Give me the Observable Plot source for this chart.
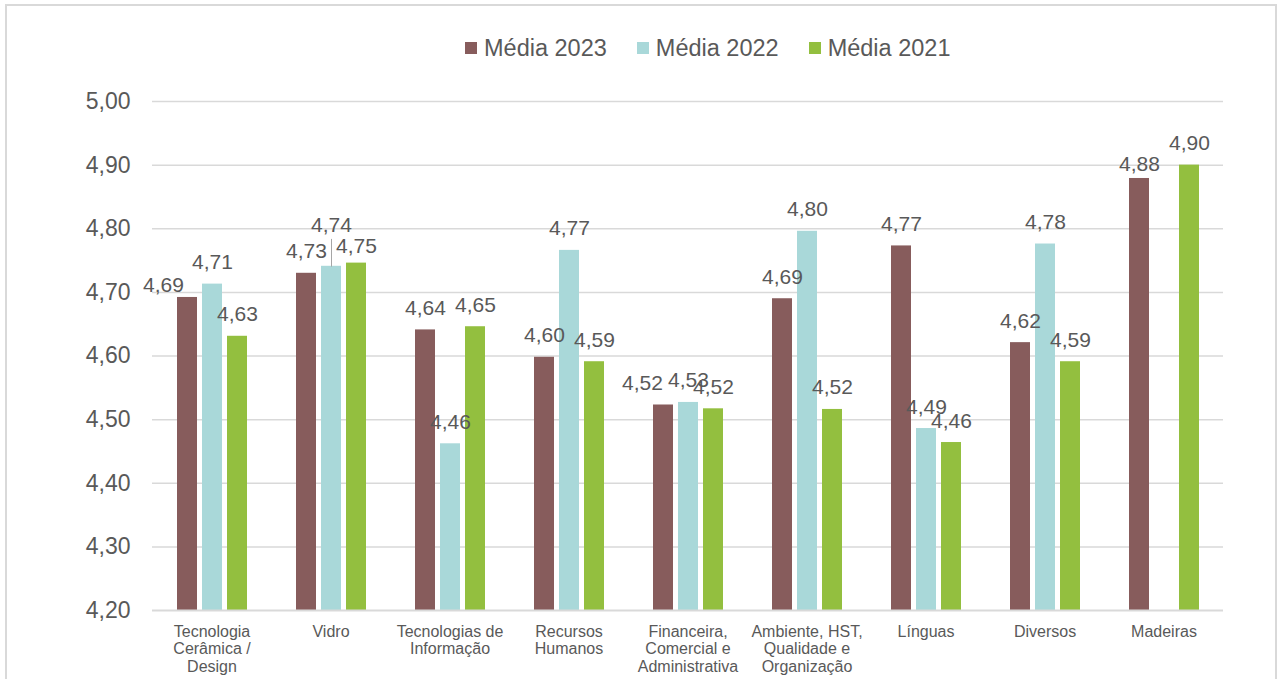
<!DOCTYPE html>
<html>
<head>
<meta charset="utf-8">
<script src="https://cdn.jsdelivr.net/npm/d3@7"></script>
<script src="https://cdn.jsdelivr.net/npm/@observablehq/plot@0.6"></script>
<style>
  body { margin: 0; background: #fff; font-family: "Liberation Sans", Arial, sans-serif; overflow: hidden; }
  #frame { position: absolute; left: 5px; top: 4px; width: 1272px; height: 740px; border: 2px solid #d9d9d9; box-sizing: border-box; }
  #legend { position: relative; height: 80px; }
  #legend .row { position: absolute; left: 465px; top: 35px; display: flex; align-items: center; font-size: 23.5px; line-height: 26px; color: #595959; white-space: nowrap; }
  #legend .item { display: flex; align-items: center; margin-right: 30px; }
  #legend .sw { width: 12px; height: 12px; margin-right: 7px; }
  #chart { position: relative; }
</style>
</head>
<body>
<div id="frame"></div>
<div id="legend"><div class="row"></div></div>
<div id="chart"></div>
<script>
const categories = [
  "Tecnologia Cerâmica / Design",
  "Vidro",
  "Tecnologias de Informação",
  "Recursos Humanos",
  "Financeira, Comercial e Administrativa",
  "Ambiente, HST, Qualidade e Organização",
  "Línguas",
  "Diversos",
  "Madeiras"
];
const categoryLabels = [
  "Tecnologia\nCerâmica /\nDesign",
  "Vidro",
  "Tecnologias de\nInformação",
  "Recursos\nHumanos",
  "Financeira,\nComercial e\nAdministrativa",
  "Ambiente, HST,\nQualidade e\nOrganização",
  "Línguas",
  "Diversos",
  "Madeiras"
];
const series = ["Média 2023", "Média 2022", "Média 2021"];
const media2023 = [4.692, 4.730, 4.641, 4.598, 4.523, 4.690, 4.773, 4.621, 4.879];
const media2022 = [4.713, 4.741, 4.462, 4.766, 4.527, 4.796, 4.486, 4.776, null];
const media2021 = [4.631, 4.746, 4.646, 4.591, 4.517, 4.516, 4.464, 4.591, 4.900];
const yTicks = [4.2, 4.3, 4.4, 4.5, 4.6, 4.7, 4.8, 4.9, 5.0];
const colors = ["#875c5c", "#a9d8d9", "#93bf3f"];

// label nudges (manually moved data labels in the original), in pixels
const labelNudges = {
  "Tecnologia Cerâmica / Design|Média 2023": [-24, 10],
  "Vidro|Média 2022": [0, -19],
  "Vidro|Média 2021": [0, 5],
  "Financeira, Comercial e Administrativa|Média 2023": [-21, 0],
  "Madeiras|Média 2023": [0, 8]
};

const seriesValues = [media2023, media2022, media2021];
const data = [];
categories.forEach((c, i) => {
  seriesValues.forEach((arr, j) => {
    if (arr[i] != null) data.push({category: c, series: series[j], value: arr[i]});
  });
});
const labelOf = new Map(categories.map((c, i) => [c, categoryLabels[i]]));
const fmt = v => d3.format(".2f")(v).replace(".", ",");
const key = d => d.category + "|" + d.series;

// legend
const row = document.querySelector("#legend .row");
series.forEach((s, i) => {
  const it = document.createElement("div");
  it.className = "item";
  const sw = document.createElement("div");
  sw.className = "sw";
  sw.style.background = colors[i];
  const tx = document.createElement("span");
  tx.textContent = s;
  it.appendChild(sw); it.appendChild(tx);
  row.appendChild(it);
});

const textColor = "#595959";
const labelMarks = [];
labelMarks.push(Plot.text(data.filter(d => !labelNudges[key(d)]), {
  fx: "category", x: "series", y: "value", text: d => fmt(d.value),
  lineAnchor: "bottom", dy: -15, fontSize: 21, fill: textColor
}));
for (const [k, [dx, dy]] of Object.entries(labelNudges)) {
  labelMarks.push(Plot.text(data.filter(d => key(d) === k), {
    fx: "category", x: "series", y: "value", text: d => fmt(d.value),
    lineAnchor: "bottom", dx, dy: -15 + dy, fontSize: 21, fill: textColor
  }));
}

const leaderShape = {draw(context, l) { context.moveTo(0, 0); context.lineTo(0, -l); }};

// half of the gap between category groups, so per-facet rules join into continuous lines
const fxPaddingInner = 0.3;
const plotWidth = 1281, mL = 150, mR = 56;
const groupStep = (plotWidth - mL - mR) / categories.length;
const outerGap = groupStep * fxPaddingInner / 2;
const halfGap = outerGap + 0.1;

const chart = Plot.plot({
  width: plotWidth,
  height: 599,
  marginLeft: mL,
  marginRight: mR,
  marginTop: 21,
  marginBottom: 69,
  style: {fontFamily: "'Liberation Sans', Arial, sans-serif", color: textColor, background: "transparent", overflow: "visible"},
  fx: {domain: categories, paddingInner: fxPaddingInner, paddingOuter: fxPaddingInner / 2, label: null},
  x: {domain: series, padding: 0.2, axis: null},
  y: {domain: [4.2, 5.0], label: null},
  color: {domain: series, range: colors},
  marks: [
    Plot.ruleY(yTicks.slice(1), {stroke: "#d9d9d9", strokeWidth: 1.5, insetLeft: -halfGap, insetRight: -halfGap}),
    Plot.barY(data, {fx: "category", x: "series", y1: 4.2, y2: "value", fill: "series"}),
    Plot.ruleY([4.2], {stroke: "#d9d9d9", strokeWidth: 2, insetLeft: -halfGap, insetRight: -halfGap}),
    Plot.vector(data.filter(d => key(d) === "Vidro|Média 2022"), {
      fx: "category", x: "series", y: "value", length: 27, rotate: 0, anchor: "start",
      shape: leaderShape, stroke: "#a6a6a6", strokeWidth: 1
    }),
    ...labelMarks,
    Plot.axisY(yTicks, {tickSize: 0, tickPadding: 22 + outerGap, fontSize: 23, tickFormat: fmt, label: null, fill: textColor}),
    Plot.axisFx({anchor: "bottom", tickSize: 0, tickPadding: 13.5, fontSize: 16, lineHeight: 1.1,
      tickFormat: d => labelOf.get(d), label: null, fill: textColor})
  ]
});
document.getElementById("chart").appendChild(chart);
</script>
</body>
</html>
